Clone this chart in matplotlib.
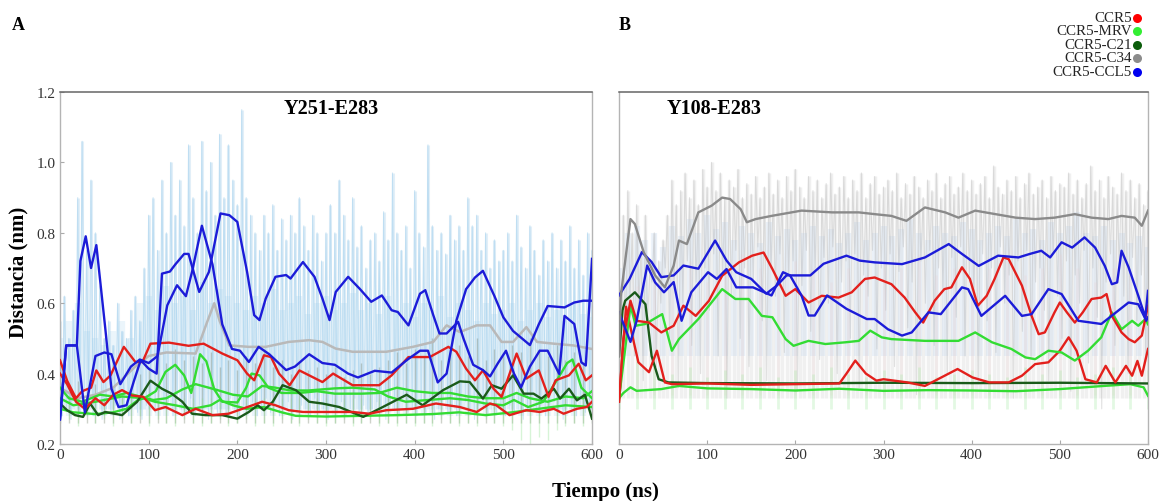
import numpy as np
import matplotlib.pyplot as plt

plt.rcParams['font.family'] = ['Liberation Serif', 'DejaVu Serif']

# ---------------- panel A : Y251-E283 (smoothed traces, t in ns, distance in nm)
a_blue1_t = [0, 7, 19, 23, 29, 35, 41, 51, 58, 66, 75, 83, 91, 100, 109, 115, 124, 130, 140, 145,
             157, 168, 181, 191, 200, 211, 219, 225, 232, 243, 255, 260, 274, 287, 296, 304, 311, 325, 338, 351,
             363, 374, 381, 393, 406, 412, 421, 428, 436, 449, 455, 466, 477, 485, 494, 503, 512, 520, 530, 541,
             550, 563, 569, 580, 588, 593, 600]
a_blue1_v = [0.27, 0.48, 0.48, 0.72, 0.79, 0.70, 0.765, 0.53, 0.357, 0.305, 0.31, 0.376, 0.438, 0.414, 0.40, 0.684, 0.69, 0.71, 0.74, 0.74,
             0.632, 0.689, 0.855, 0.85, 0.831, 0.689, 0.566, 0.552, 0.613, 0.675, 0.68, 0.67, 0.717, 0.675, 0.613, 0.552, 0.632, 0.675, 0.641, 0.604,
             0.622, 0.58, 0.575, 0.537, 0.627, 0.637, 0.566, 0.514, 0.514, 0.547, 0.50, 0.425, 0.41, 0.392, 0.43, 0.465, 0.40, 0.361, 0.42, 0.465,
             0.465, 0.399, 0.564, 0.541, 0.432, 0.423, 0.726]
a_blue2_t = [0, 7, 19, 28, 40, 50, 58, 68, 80, 90, 100, 110, 121, 132, 142, 149, 160, 172, 183, 194,
             203, 213, 224, 236, 255, 265, 281, 296, 310, 325, 336, 355, 374, 392, 406, 415, 426, 436, 447, 458,
             468, 477, 490, 500, 511, 521, 530, 540, 550, 560, 569, 580, 590, 600]
a_blue2_v = [0.27, 0.48, 0.48, 0.29, 0.45, 0.46, 0.455, 0.37, 0.42, 0.44, 0.43, 0.45, 0.594, 0.651, 0.62, 0.69, 0.82, 0.71, 0.54, 0.47,
             0.465, 0.433, 0.476, 0.455, 0.41, 0.42, 0.455, 0.43, 0.425, 0.40, 0.389, 0.408, 0.403, 0.44, 0.465, 0.465, 0.375, 0.40, 0.55, 0.64,
             0.673, 0.692, 0.62, 0.56, 0.521, 0.50, 0.481, 0.54, 0.592, 0.59, 0.588, 0.602, 0.607, 0.607]
a_red1_t = [0, 8, 18, 25, 35, 41, 49, 57, 72, 85, 93, 102, 123, 145, 162, 183, 200, 211, 219, 230,
            238, 247, 259, 270, 281, 296, 308, 330, 360, 374, 393, 417, 438, 447, 458, 468, 477, 489, 498, 515,
            526, 540, 551, 559, 574, 585, 593, 600]
a_red1_v = [0.438, 0.38, 0.33, 0.35, 0.36, 0.409, 0.376, 0.395, 0.476, 0.433, 0.433, 0.485, 0.488, 0.479, 0.485, 0.457, 0.438, 0.40, 0.381, 0.452,
            0.447, 0.40, 0.367, 0.409, 0.395, 0.376, 0.40, 0.367, 0.367, 0.395, 0.447, 0.447, 0.476, 0.462, 0.414, 0.381, 0.409, 0.357, 0.334, 0.457,
            0.386, 0.409, 0.334, 0.381, 0.395, 0.428, 0.381, 0.395]
a_red2_t = [0, 8, 18, 28, 40, 50, 60, 70, 81, 94, 107, 119, 138, 153, 172, 190, 217, 228, 243, 258,
            274, 296, 330, 349, 368, 398, 424, 451, 470, 485, 492, 507, 526, 541, 557, 568, 583, 594, 600]
a_red2_v = [0.40, 0.37, 0.32, 0.30, 0.33, 0.31, 0.34, 0.353, 0.338, 0.334, 0.296, 0.305, 0.282, 0.30, 0.282, 0.286, 0.31, 0.32, 0.31, 0.296,
            0.291, 0.291, 0.291, 0.286, 0.296, 0.30, 0.315, 0.305, 0.291, 0.315, 0.31, 0.282, 0.296, 0.291, 0.30, 0.286, 0.30, 0.305, 0.32]
a_dgreen_t = [0, 8, 17, 26, 34, 43, 51, 70, 87, 102, 115, 126, 138, 149, 164, 183, 200, 213, 223, 230,
              240, 251, 266, 281, 296, 315, 342, 364, 391, 409, 432, 451, 462, 477, 487, 498, 511, 523, 534, 543,
              557, 564, 574, 583, 592, 600]
a_dgreen_v = [0.315, 0.296, 0.282, 0.277, 0.315, 0.282, 0.291, 0.282, 0.32, 0.38, 0.357, 0.343, 0.32, 0.286, 0.282, 0.282, 0.272, 0.291, 0.31, 0.296,
              0.32, 0.367, 0.353, 0.32, 0.315, 0.305, 0.277, 0.305, 0.34, 0.31, 0.353, 0.378, 0.376, 0.329, 0.367, 0.357, 0.395, 0.343, 0.343, 0.329,
              0.357, 0.329, 0.357, 0.324, 0.34, 0.272]
a_grey_t = [0, 20, 40, 60, 85, 100, 120, 153, 166, 174, 180, 191, 213, 232, 258, 281, 296, 311, 330, 368,
            398, 421, 436, 451, 470, 485, 498, 511, 526, 538, 557, 579, 600]
a_grey_v = [0.36, 0.33, 0.34, 0.36, 0.42, 0.45, 0.46, 0.457, 0.547, 0.60, 0.55, 0.48, 0.476, 0.476, 0.49, 0.495, 0.49, 0.471, 0.462, 0.462,
            0.476, 0.49, 0.537, 0.518, 0.537, 0.537, 0.49, 0.49, 0.532, 0.49, 0.485, 0.48, 0.47]
a_green1_t = [0, 10, 25, 45, 60, 75, 90, 105, 120, 138, 153, 175, 195, 212, 228, 243, 260, 280, 310, 330,
              355, 370, 390, 415, 440, 460, 480, 500, 512, 528, 545, 560, 572, 578, 588, 600]
a_green1_v = [0.36, 0.33, 0.32, 0.34, 0.335, 0.345, 0.335, 0.325, 0.33, 0.355, 0.37, 0.355, 0.34, 0.335, 0.365, 0.36, 0.352, 0.352, 0.358, 0.36,
              0.355, 0.335, 0.32, 0.325, 0.33, 0.325, 0.315, 0.31, 0.325, 0.305, 0.32, 0.38, 0.43, 0.44, 0.36, 0.33]
a_green2_t = [0, 15, 40, 70, 95, 108, 119, 130, 140, 148, 153, 158, 165, 174, 183, 200, 210, 216, 225, 235,
              250, 270, 290, 310, 340, 360, 380, 400, 420, 440, 460, 480, 500, 515, 530, 550, 570, 590, 600]
a_green2_v = [0.33, 0.31, 0.32, 0.335, 0.33, 0.35, 0.405, 0.425, 0.395, 0.345, 0.40, 0.455, 0.435, 0.355, 0.32, 0.318, 0.36, 0.40, 0.395, 0.36,
              0.345, 0.345, 0.35, 0.343, 0.343, 0.345, 0.36, 0.35, 0.345, 0.345, 0.335, 0.33, 0.33, 0.345, 0.33, 0.32, 0.335, 0.33, 0.35]
a_green3_t = [0, 15, 40, 60, 75, 88, 95, 107, 130, 150, 170, 180, 195, 210, 230, 250, 266, 300, 340, 380,
              420, 450, 480, 510, 540, 570, 600]
a_green3_v = [0.30, 0.29, 0.285, 0.29, 0.30, 0.325, 0.33, 0.32, 0.31, 0.30, 0.31, 0.325, 0.31, 0.30, 0.305, 0.29, 0.28, 0.278, 0.28, 0.282,
              0.285, 0.29, 0.282, 0.29, 0.30, 0.31, 0.305]

# raw (unsmoothed) traces of panel A, spread evenly over 0-600 ns
a_raw_blue_hi = [0.55, 0.62, 0.5, 0.58,
                 0.9, 1.06, 0.75, 0.95, 0.8, 0.65,
                 0.5, 0.55, 0.48, 0.6, 0.52, 0.5, 0.58, 0.62, 0.55,
                 0.7, 0.85, 0.9, 0.75, 0.95, 0.8,
                 1.0, 0.85, 0.95, 0.82, 1.05, 0.9, 0.8, 1.06, 0.92, 1.0, 0.85, 1.08, 0.9, 1.05, 0.95, 0.88,
                 1.15, 0.9, 0.85, 0.8, 0.75, 0.85, 0.8, 0.88, 0.75, 0.84,
                 0.78, 0.85, 0.8, 0.9, 0.82, 0.75, 0.85, 0.8, 0.72, 0.8,
                 0.88, 0.8, 0.95, 0.85, 0.78, 0.9, 0.76, 0.82, 0.7, 0.78,
                 0.8, 0.72, 0.86, 0.78, 0.97, 0.8, 0.75, 0.82, 0.7, 0.92,
                 0.8, 0.76, 1.05, 0.82, 0.75, 0.8, 0.74, 0.85, 0.78, 0.82,
                 0.75, 0.9, 0.82, 0.85, 0.75, 0.8, 0.7, 0.78, 0.72, 0.75,
                 0.8, 0.72, 0.85, 0.76, 0.7, 0.82, 0.75, 0.68, 0.78, 0.72,
                 0.8, 0.7, 0.78, 0.72, 0.82, 0.7, 0.78, 0.68, 0.8, 0.75]
a_raw_blue_lo = [0.28, 0.3, 0.27, 0.32, 0.29, 0.35, 0.3, 0.28, 0.33, 0.27, 0.3, 0.29, 0.31, 0.27, 0.3, 0.28, 0.32, 0.29, 0.27, 0.31,
                 0.33, 0.29, 0.35, 0.3, 0.32, 0.28, 0.34, 0.3, 0.29, 0.33, 0.28, 0.31, 0.3, 0.27, 0.32, 0.29, 0.3, 0.28, 0.33, 0.3,
                 0.27, 0.31, 0.29, 0.32, 0.28, 0.3, 0.33, 0.29, 0.31, 0.28, 0.3, 0.32, 0.27, 0.29, 0.31, 0.3, 0.28, 0.33, 0.29, 0.3,
                 0.27, 0.31, 0.29, 0.32, 0.28, 0.3, 0.33, 0.29, 0.31, 0.28, 0.3, 0.32, 0.29, 0.27, 0.31, 0.3, 0.28, 0.33, 0.29, 0.3,
                 0.28, 0.31, 0.29, 0.32, 0.27, 0.3, 0.33, 0.29, 0.31, 0.28, 0.3, 0.32, 0.29, 0.27, 0.31, 0.3, 0.28, 0.33, 0.29, 0.3,
                 0.28, 0.31, 0.29, 0.32, 0.27, 0.3, 0.33, 0.29, 0.31, 0.28, 0.3, 0.32, 0.29, 0.27, 0.31, 0.3, 0.28, 0.33, 0.29, 0.3, 0.28]
a_raw_blue_mid = [0.5, 0.55, 0.6, 0.52, 0.5, 0.48, 0.52, 0.55, 0.5, 0.6, 0.62, 0.58, 0.65, 0.6, 0.62, 0.58, 0.66, 0.6, 0.64, 0.62,
                  0.6, 0.58, 0.62, 0.6, 0.64, 0.58, 0.6, 0.62, 0.57, 0.6, 0.62, 0.58, 0.6, 0.63, 0.58, 0.6, 0.57, 0.62, 0.58, 0.6,
                  0.56, 0.6, 0.58, 0.62, 0.56, 0.6, 0.58, 0.55, 0.6, 0.57, 0.58, 0.6, 0.55, 0.58, 0.6, 0.56, 0.58, 0.55, 0.6, 0.57, 0.56]
a_raw_dark_hi = [0.36, 0.34, 0.38, 0.35, 0.37, 0.33, 0.36, 0.34, 0.35, 0.4, 0.42, 0.45, 0.43, 0.47, 0.44, 0.45, 0.43, 0.46, 0.42, 0.44,
                 0.41, 0.45, 0.43, 0.47, 0.42, 0.44, 0.4, 0.43, 0.41, 0.42, 0.4, 0.42, 0.39, 0.41, 0.43, 0.4, 0.42, 0.44, 0.46, 0.43,
                 0.47, 0.45, 0.5, 0.44, 0.46, 0.48, 0.45, 0.5, 0.44, 0.47, 0.45, 0.48, 0.46, 0.5, 0.47, 0.45, 0.48, 0.44, 0.46, 0.43, 0.42]
a_raw_green_lo = [0.3, 0.27, 0.25, 0.28, 0.26, 0.27, 0.25, 0.27, 0.26, 0.28, 0.25, 0.27, 0.26, 0.25, 0.27, 0.26, 0.25, 0.26, 0.27, 0.25,
                  0.26, 0.27, 0.25, 0.26, 0.25, 0.27, 0.26, 0.25, 0.27, 0.26, 0.25, 0.26, 0.27, 0.25, 0.26, 0.27, 0.25, 0.26, 0.25, 0.26,
                  0.25, 0.26, 0.25, 0.27, 0.26, 0.25, 0.26, 0.25, 0.27, 0.26, 0.25, 0.24, 0.21, 0.2, 0.22, 0.21, 0.24, 0.25, 0.26, 0.25, 0.26]

# ---------------- panel B : Y108-E283
b_grey_t = [0, 2, 13, 18, 28, 41, 52, 62, 68, 77, 90, 105, 117, 126, 138, 145, 155, 173, 207, 242,
            272, 290, 309, 326, 347, 370, 385, 404, 427, 450, 472, 494, 517, 536, 555, 570, 585, 593, 600]
b_grey_v = [0.45, 0.62, 0.839, 0.825, 0.745, 0.679, 0.645, 0.707, 0.778, 0.768, 0.858, 0.877, 0.90, 0.896, 0.867, 0.83, 0.839, 0.848, 0.863, 0.858,
            0.858, 0.853, 0.848, 0.834, 0.872, 0.858, 0.843, 0.863, 0.853, 0.843, 0.839, 0.843, 0.853, 0.843, 0.839, 0.848, 0.843, 0.82, 0.863]
b_blue1_t = [0, 12, 26, 37, 48, 62, 73, 90, 109, 122, 133, 150, 167, 179, 190, 217, 232, 258, 273, 290,
             321, 347, 374, 389, 408, 430, 453, 466, 479, 489, 502, 514, 528, 540, 551, 559, 565, 570, 578, 589,
             597, 600]
b_blue1_v = [0.622, 0.669, 0.745, 0.717, 0.674, 0.679, 0.707, 0.698, 0.778, 0.721, 0.688, 0.669, 0.627, 0.65, 0.679, 0.679, 0.712, 0.735, 0.721, 0.716,
             0.711, 0.73, 0.768, 0.74, 0.706, 0.735, 0.73, 0.74, 0.749, 0.73, 0.773, 0.758, 0.787, 0.758, 0.706, 0.654, 0.659, 0.749, 0.702, 0.621,
             0.56, 0.635]
b_blue2_t = [0, 13, 20, 32, 41, 51, 62, 71, 82, 101, 111, 122, 133, 152, 173, 186, 194, 207, 215, 222,
             236, 258, 281, 290, 305, 321, 332, 351, 365, 389, 396, 411, 438, 457, 468, 487, 502, 521, 547, 578,
             589, 598, 600]
b_blue2_v = [0.574, 0.49, 0.55, 0.707, 0.659, 0.631, 0.66, 0.55, 0.631, 0.688, 0.669, 0.697, 0.645, 0.645, 0.622, 0.688, 0.679, 0.622, 0.565, 0.565,
             0.622, 0.584, 0.555, 0.555, 0.526, 0.508, 0.517, 0.574, 0.569, 0.645, 0.64, 0.564, 0.621, 0.564, 0.569, 0.64, 0.626, 0.55, 0.541, 0.602,
             0.597, 0.55, 0.56]
b_red1_t = [0, 5, 13, 20, 34, 48, 62, 73, 87, 102, 117, 136, 151, 164, 174, 189, 200, 215, 230, 249,
            264, 279, 290, 309, 324, 336, 345, 358, 369, 377, 389, 398, 407, 417, 426, 436, 442, 457, 468, 476,
            483, 494, 500, 508, 517, 526, 536, 547, 553, 559, 570, 578, 585, 593, 600]
b_red1_v = [0.32, 0.50, 0.607, 0.55, 0.545, 0.517, 0.536, 0.593, 0.564, 0.607, 0.678, 0.716, 0.735, 0.744, 0.697, 0.621, 0.64, 0.602, 0.621, 0.616,
            0.631, 0.669, 0.673, 0.654, 0.616, 0.574, 0.545, 0.607, 0.64, 0.645, 0.702, 0.669, 0.593, 0.621, 0.669, 0.73, 0.725, 0.65, 0.564, 0.512,
            0.517, 0.574, 0.602, 0.574, 0.545, 0.574, 0.612, 0.616, 0.626, 0.564, 0.517, 0.498, 0.489, 0.508, 0.593]
b_red2_t = [0, 8, 14, 22, 34, 43, 52, 60, 100, 150, 200, 250, 258, 268, 280, 292, 300, 327, 347, 384,
            401, 420, 442, 457, 472, 487, 500, 510, 519, 529, 542, 552, 563, 575, 582, 588, 593, 600]
b_red2_v = [0.32, 0.59, 0.52, 0.432, 0.404, 0.465, 0.375, 0.37, 0.372, 0.368, 0.37, 0.372, 0.40, 0.437, 0.40, 0.38, 0.384, 0.375, 0.365, 0.413,
            0.389, 0.375, 0.375, 0.394, 0.427, 0.432, 0.465, 0.503, 0.465, 0.384, 0.375, 0.422, 0.375, 0.422, 0.394, 0.436, 0.394, 0.47]
b_green1_t = [0, 6, 13, 19, 30, 49, 60, 68, 90, 117, 132, 147, 162, 174, 189, 198, 215, 234, 257, 272,
              285, 298, 309, 347, 385, 404, 423, 445, 461, 472, 487, 502, 517, 532, 547, 559, 570, 582, 589, 597,
              600]
b_green1_v = [0.33, 0.45, 0.593, 0.536, 0.541, 0.569, 0.465, 0.498, 0.555, 0.64, 0.612, 0.612, 0.564, 0.56, 0.498, 0.479, 0.493, 0.484, 0.489, 0.493,
              0.522, 0.503, 0.498, 0.493, 0.493, 0.517, 0.489, 0.47, 0.446, 0.441, 0.465, 0.46, 0.437, 0.465, 0.503, 0.574, 0.526, 0.55, 0.536, 0.555,
              0.54]
b_green2_t = [0, 5, 13, 20, 48, 68, 100, 150, 200, 250, 300, 350, 400, 450, 500, 550, 580, 595, 600]
b_green2_v = [0.33, 0.345, 0.361, 0.351, 0.356, 0.365, 0.358, 0.356, 0.352, 0.357, 0.351, 0.353, 0.352, 0.35, 0.356, 0.365, 0.37, 0.361, 0.337]
b_dgreen_t = [0, 4, 7, 18, 30, 37, 45, 56, 100, 200, 300, 400, 500, 600]
b_dgreen_v = [0.45, 0.58, 0.607, 0.631, 0.597, 0.45, 0.384, 0.375, 0.373, 0.372, 0.374, 0.373, 0.374, 0.372]

b_raw_grey_hi = [0.5, 0.85, 0.92, 0.8, 0.88,
                 0.75, 0.85, 0.7, 0.8, 0.72, 0.78, 0.85, 0.95, 0.88, 0.92, 0.97, 0.9, 0.95, 0.88, 0.98, 0.93,
                 1.0, 0.92, 0.97, 0.9, 0.95, 0.93, 0.98, 0.9, 0.94, 0.91, 0.96, 0.9, 0.93, 0.97, 0.91, 0.95, 0.9, 0.96, 0.92, 0.98,
                 0.93, 0.9, 0.96, 0.92, 0.95, 0.9, 0.94, 0.97, 0.91, 0.93, 0.96, 0.9, 0.95, 0.92, 0.97, 0.9, 0.94, 0.96, 0.91, 0.93,
                 0.95, 0.92, 0.97, 0.9, 0.94, 0.91, 0.96, 0.93, 0.9, 0.95, 0.92, 0.97, 0.9, 0.94, 0.96, 0.91, 0.93, 0.97, 0.92, 0.95,
                 0.91, 0.94, 0.96, 0.9, 0.99, 0.93, 0.91, 0.95, 0.92, 0.96, 0.9, 0.94, 0.97, 0.91, 0.93, 0.95, 0.9, 0.96, 0.92, 0.94,
                 0.93, 0.97, 0.91, 0.95, 0.9, 0.94, 0.99, 0.92, 0.95, 0.9, 0.96, 0.93, 0.91, 0.97, 0.92, 0.95, 0.9, 0.94, 0.88, 0.92]
b_raw_grey_lo = [0.35, 0.5, 0.62, 0.45, 0.6, 0.38, 0.55, 0.66, 0.42, 0.6, 0.7, 0.5, 0.65, 0.36, 0.6, 0.72, 0.48, 0.66, 0.4, 0.7,
                 0.58, 0.74, 0.45, 0.68, 0.33, 0.62, 0.75, 0.5, 0.7, 0.42, 0.66, 0.76, 0.55, 0.38, 0.7, 0.62, 0.74, 0.46, 0.68, 0.72,
                 0.35, 0.65, 0.75, 0.52, 0.7, 0.44, 0.73, 0.6, 0.76, 0.4, 0.66, 0.72, 0.5, 0.74, 0.36, 0.68, 0.62, 0.75, 0.47, 0.7,
                 0.58, 0.74, 0.42, 0.69, 0.76, 0.53, 0.66, 0.34, 0.72, 0.6, 0.75, 0.48, 0.7, 0.64, 0.4, 0.73, 0.56, 0.76, 0.45, 0.68,
                 0.62, 0.37, 0.74, 0.55, 0.7, 0.46, 0.76, 0.6, 0.68, 0.33, 0.72, 0.52, 0.75, 0.44, 0.66, 0.7, 0.58, 0.38, 0.74, 0.62,
                 0.5, 0.72, 0.35, 0.68, 0.6, 0.75, 0.43, 0.7, 0.56, 0.3, 0.66, 0.74, 0.48, 0.7, 0.62, 0.4, 0.73, 0.55, 0.68, 0.45, 0.6]
b_raw_blue_hi = [0.7, 0.8, 0.82, 0.78, 0.8, 0.76, 0.82, 0.79, 0.84, 0.8, 0.85, 0.81, 0.83, 0.78, 0.82, 0.8, 0.77, 0.83, 0.79, 0.81,
                 0.78, 0.8, 0.82, 0.79, 0.81, 0.77, 0.8, 0.83, 0.78, 0.8, 0.82, 0.79, 0.81, 0.84, 0.8, 0.78, 0.82, 0.8, 0.79, 0.83,
                 0.81, 0.78, 0.8, 0.82, 0.79, 0.84, 0.8, 0.81, 0.78, 0.83, 0.8, 0.82, 0.86, 0.8, 0.79, 0.82, 0.78, 0.8, 0.77, 0.79, 0.76]
b_raw_pink_hi = [0.6, 0.65, 0.7, 0.68, 0.72, 0.66, 0.7, 0.74, 0.7, 0.68, 0.72, 0.7, 0.66, 0.7, 0.68, 0.72, 0.7, 0.74, 0.68, 0.7,
                 0.66, 0.7, 0.72, 0.68, 0.7, 0.74, 0.7, 0.66, 0.7, 0.68, 0.65]
b_raw_green_hi = [0.38, 0.45, 0.42, 0.4, 0.42, 0.39, 0.41, 0.4, 0.42, 0.39, 0.41, 0.4, 0.42, 0.4, 0.39, 0.41, 0.4, 0.42, 0.39, 0.4,
                  0.41, 0.4, 0.39, 0.42, 0.4, 0.41, 0.39, 0.4, 0.42, 0.4, 0.41]

legend_names = ['CCR5', 'CCR5-MRV', 'CCR5-C21', 'CCR5-C34', 'CCR5-CCL5']

RED = '#e3201c'
BLUE = '#1c1cd8'
GREEN = '#33dc33'
DGREEN = '#1a5a1a'
legend_colors = ['#ff0000', '#33ee33', '#0b5c0b', '#8c8c8c', '#0000f0']


def raw_trace(ax, hi, lo, color, alpha, lw=0.8):
    # zigzag between the peaks and the troughs of a raw trajectory
    th = np.linspace(0, 600, len(hi))
    step = 600 / (len(lo) - 1)
    tl = np.linspace(0, 600, len(lo)) + step / 2
    keep = tl < 600
    t = np.concatenate([th, tl[keep]])
    v = np.concatenate([np.asarray(hi), np.asarray(lo)[keep]])
    order = np.argsort(t, kind='stable')
    ax.plot(t[order], v[order], color=color, alpha=alpha, lw=lw, zorder=1)


def raw_bars(ax, hi, base, color, alpha, lw=1.0):
    t = np.linspace(0, 600, len(hi))
    ax.vlines(t, base, hi, colors=color, alpha=alpha, lw=lw, zorder=1)


def smooth(ax, t, v, color, lw=1.7, z=3):
    ax.plot(t, v, color=color, lw=lw, zorder=z, solid_joinstyle='round')


def style(ax, show_y):
    ax.set_xlim(0, 600)
    ax.set_ylim(0.2, 1.2)
    ax.set_xticks(range(0, 601, 100))
    ax.set_yticks([0.2, 0.4, 0.6, 0.8, 1.0, 1.2])
    ax.tick_params(axis='both', labelsize=11, labelcolor='#333333', colors='#aaaaaa',
                   direction='in', length=3, width=0.8, pad=3)
    if show_y:
        ax.set_yticklabels(['0.2', '0.4', '0.6', '0.8', '1.0', '1.2'])
    else:
        ax.tick_params(axis='y', length=0, labelleft=False)
    for s in ['left', 'bottom', 'right']:
        ax.spines[s].set_color('#b4b4b4')
        ax.spines[s].set_linewidth(1.0)
    ax.spines['top'].set_color('#666666')
    ax.spines['top'].set_linewidth(1.1)


fig = plt.figure(figsize=(11.61, 5.02), dpi=100)
axA = fig.add_axes([60 / 1161, 1 - 445 / 502, 532 / 1161, 352 / 502])
axB = fig.add_axes([619 / 1161, 1 - 445 / 502, 529 / 1161, 352 / 502])

# panel A
raw_bars(axA, a_raw_blue_mid, 0.28, '#a6d3ef', 0.22, 4.5)
raw_bars(axA, a_raw_blue_hi, 0.3, '#9fcdea', 0.3, 2.2)
raw_trace(axA, a_raw_blue_hi, a_raw_blue_lo, '#8cc6ea', 0.4, 0.8)
raw_bars(axA, a_raw_dark_hi, 0.26, '#5d6b50', 0.3, 1.0)
raw_bars(axA, a_raw_green_lo, 0.33, '#8fe28f', 0.35, 1.0)
smooth(axA, a_grey_t, a_grey_v, '#b9b9b9', 1.8, 2)
smooth(axA, a_green3_t, a_green3_v, GREEN)
smooth(axA, a_green1_t, a_green1_v, GREEN)
smooth(axA, a_green2_t, a_green2_v, GREEN)
smooth(axA, a_dgreen_t, a_dgreen_v, DGREEN)
smooth(axA, a_red2_t, a_red2_v, RED)
smooth(axA, a_red1_t, a_red1_v, RED)
smooth(axA, a_blue2_t, a_blue2_v, BLUE)
smooth(axA, a_blue1_t, a_blue1_v, BLUE)
style(axA, True)
axA.text(0.51, 0.955, 'Y251-E283', transform=axA.transAxes, ha='center', va='center',
         fontsize=14.5, fontweight='bold')

# panel B
raw_bars(axB, b_raw_grey_hi, 0.33, '#cfcfcf', 0.3, 2.5)
raw_bars(axB, b_raw_blue_hi, 0.45, '#b9d3ef', 0.25, 4.5)
raw_trace(axB, b_raw_grey_hi, b_raw_grey_lo, '#b8b8b8', 0.4, 0.8)
raw_bars(axB, b_raw_pink_hi, 0.34, '#f4c4c4', 0.14, 2.0)
raw_bars(axB, b_raw_green_hi, 0.3, '#a5eaa5', 0.3, 2.0)
smooth(axB, b_green2_t, b_green2_v, GREEN)
smooth(axB, b_dgreen_t, b_dgreen_v, DGREEN)
smooth(axB, b_red2_t, b_red2_v, RED)
smooth(axB, b_green1_t, b_green1_v, GREEN)
smooth(axB, b_red1_t, b_red1_v, RED)
smooth(axB, b_blue2_t, b_blue2_v, BLUE)
smooth(axB, b_blue1_t, b_blue1_v, BLUE)
smooth(axB, b_grey_t, b_grey_v, '#8a8a8a')
style(axB, False)
axB.text(0.18, 0.955, 'Y108-E283', transform=axB.transAxes, ha='center', va='center',
         fontsize=14.5, fontweight='bold')

# labels
fig.text(18 / 1161, 1 - 272 / 502, 'Distancia (nm)', rotation=90, ha='center', va='center',
         fontsize=15, fontweight='bold')
fig.text(605 / 1161, 1 - 492 / 502, 'Tiempo (ns)', ha='center', va='center',
         fontsize=15, fontweight='bold')
fig.text(18 / 1161, 1 - 25 / 502, 'A', ha='center', va='center', fontsize=13, fontweight='bold')
fig.text(625 / 1161, 1 - 25 / 502, 'B', ha='center', va='center', fontsize=13, fontweight='bold')

# legend in the top right corner
for i, (name, col) in enumerate(zip(legend_names, legend_colors)):
    y = 1 - (18.5 + 13.5 * i) / 502
    fig.text(1132 / 1161, y, name, ha='right', va='center', fontsize=10.8, color='#222222')
    fig.lines.append(plt.Line2D([1137 / 1161], [y], marker='o', markersize=6.5, color=col,
                                markeredgewidth=0, transform=fig.transFigure, figure=fig))

fig.savefig('out.png', dpi=100)
